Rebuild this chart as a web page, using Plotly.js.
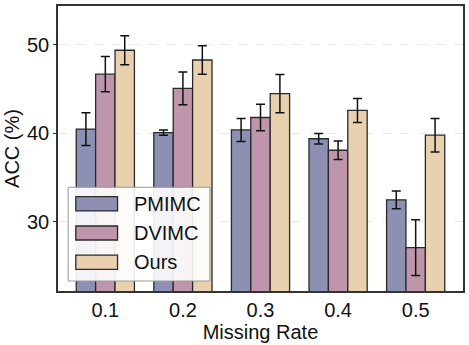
<!DOCTYPE html>
<html>
<head>
<meta charset="utf-8">
<script src="https://cdn.plot.ly/plotly-3.0.1.min.js"></script>
<style>
  html, body { margin: 0; padding: 0; background: #fff; }
  #graph { width: 469px; height: 345px; }
</style>
</head>
<body>
<div id="graph"></div>
<script>
// missing rates on the x axis
var rates = ['0.1', '0.2', '0.3', '0.4', '0.5'];

// mean accuracy (%) per method
var pmimc = [40.5, 40.1, 40.4, 39.4, 32.5];
var dvimc = [46.7, 45.1, 41.8, 38.1, 27.1];
var ours  = [49.4, 48.3, 44.5, 42.6, 39.8];

// std (error bar half length)
var pmimcErr = [1.85, 0.3, 1.3, 0.6, 1.0];
var dvimcErr = [2.0, 1.85, 1.5, 1.05, 3.15];
var oursErr  = [1.65, 1.6, 2.15, 1.35, 1.9];

var names  = ['PMIMC', 'DVIMC', 'Ours'];
var colors = ['#8d90b3', '#bf95ab', '#e9d1b0'];

var font = 'Liberation Sans, Arial, sans-serif';

function makeTrace(y, err, i) {
    return {
        x: rates,
        y: y,
        type: 'bar',
        name: names[i],
        marker: { color: colors[i], line: { color: '#2a2a2a', width: 1.3 } },
        error_y: { type: 'data', array: err, visible: true, color: '#111', thickness: 1.5, width: 4.5 }
    };
}

var data = [
    makeTrace(pmimc, pmimcErr, 0),
    makeTrace(dvimc, dvimcErr, 1),
    makeTrace(ours, oursErr, 2)
];

// hand made legend (wide swatches like the original)
var shapes = [{
    type: 'rect', xref: 'paper', yref: 'paper', layer: 'above',
    x0: 0.025, x1: 0.375, y0: 0.035, y1: 0.364,
    fillcolor: 'rgba(255,255,255,0.9)', line: { color: '#999', width: 1 }
}];
var annotations = [];
var swY = [[0.281, 0.331], [0.179, 0.228], [0.076, 0.126]];
var txtY = [0.306, 0.204, 0.102];
for (var i = 0; i < names.length; i++) {
    shapes.push({
        type: 'rect', xref: 'paper', yref: 'paper', layer: 'above',
        x0: 0.044, x1: 0.147, y0: swY[i][0], y1: swY[i][1],
        fillcolor: colors[i], line: { color: '#2a2a2a', width: 1.3 }
    });
    annotations.push({
        xref: 'paper', yref: 'paper', x: 0.183, y: txtY[i],
        xanchor: 'left', yanchor: 'middle', showarrow: false,
        text: names[i], font: { family: font, size: 20, color: '#111' }
    });
}

var layout = {
    width: 469,
    height: 345,
    margin: { l: 58, r: 6, t: 6, b: 54 },
    paper_bgcolor: '#fff',
    plot_bgcolor: '#fff',
    showlegend: false,
    barmode: 'group',
    bargap: 0.25,
    bargroupgap: 0,
    font: { family: font, color: '#111' },
    xaxis: {
        type: 'category',
        range: [-0.61, 4.61],
        title: { text: 'Missing Rate', font: { size: 20 }, standoff: 0 },
        tickfont: { size: 20 },
        ticks: '', ticklen: 0,
        showline: true, linecolor: '#333', linewidth: 1.8, mirror: true,
        showgrid: false, zeroline: false
    },
    yaxis: {
        range: [22.2, 54.4],
        tickvals: [30, 40, 50],
        title: { text: 'ACC (%)', font: { size: 20 }, standoff: 2 },
        tickfont: { size: 20 },
        ticks: 'outside', ticklen: 3, tickcolor: '#333',
        showline: true, linecolor: '#333', linewidth: 1.8, mirror: true,
        showgrid: true, gridcolor: '#e8e8e8', griddash: 'dash', gridwidth: 1,
        zeroline: false
    },
    shapes: shapes,
    annotations: annotations
};

Plotly.newPlot('graph', data, layout, { displayModeBar: false, staticPlot: true });
</script>
</body>
</html>
